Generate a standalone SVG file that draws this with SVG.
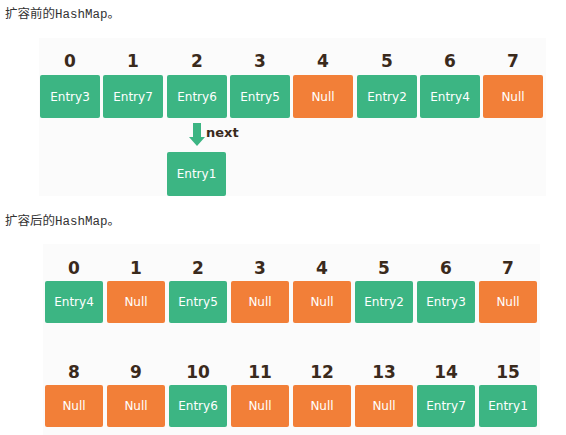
<svg xmlns="http://www.w3.org/2000/svg" width="566" height="435" viewBox="0 0 566 435">
<style>
.h{font-family:"Liberation Mono","Noto Sans CJK SC",monospace;font-size:12.5px;fill:#333}
.n{font-family:"DejaVu Sans","Liberation Sans",sans-serif;font-size:17px;font-weight:bold;fill:#3a2a1c;text-anchor:middle}
.l{font-family:"DejaVu Sans","Liberation Sans",sans-serif;font-size:12px;fill:#fff;text-anchor:middle}
.g{fill:#3cb583}
.o{fill:#f27f38}
.nx{font-family:"DejaVu Sans","Liberation Sans",sans-serif;font-size:13px;font-weight:bold;fill:#3a2a1c}
</style>
<rect width="566" height="435" fill="#fff"/>
<rect x="39" y="38" width="507" height="158" fill="#fbfbfb"/>
<rect x="43" y="244" width="497" height="191" fill="#fbfbfb"/>
<text class="h" x="5" y="18">扩容前的HashMap。</text>
<text class="h" x="5" y="225">扩容后的HashMap。</text>
<g id="before">
<g id="b0"><text class="n" x="70" y="67">0</text><rect class="g" x="40" y="75" width="60" height="43" rx="2"/><text class="l" x="70" y="101">Entry3</text></g>
<g id="b1"><text class="n" x="133" y="67">1</text><rect class="g" x="103" y="75" width="60" height="43" rx="2"/><text class="l" x="133" y="101">Entry7</text></g>
<g id="b2"><text class="n" x="197" y="67">2</text><rect class="g" x="167" y="75" width="60" height="43" rx="2"/><text class="l" x="197" y="101">Entry6</text></g>
<g id="b3"><text class="n" x="260" y="67">3</text><rect class="g" x="230" y="75" width="60" height="43" rx="2"/><text class="l" x="260" y="101">Entry5</text></g>
<g id="b4"><text class="n" x="323" y="67">4</text><rect class="o" x="293" y="75" width="60" height="43" rx="2"/><text class="l" x="323" y="101">Null</text></g>
<g id="b5"><text class="n" x="387" y="67">5</text><rect class="g" x="357" y="75" width="60" height="43" rx="2"/><text class="l" x="387" y="101">Entry2</text></g>
<g id="b6"><text class="n" x="450" y="67">6</text><rect class="g" x="420" y="75" width="60" height="43" rx="2"/><text class="l" x="450" y="101">Entry4</text></g>
<g id="b7"><text class="n" x="513" y="67">7</text><rect class="o" x="483" y="75" width="60" height="43" rx="2"/><text class="l" x="513" y="101">Null</text></g>
<g id="e1"><rect class="g" x="167" y="152" width="59" height="44" rx="2"/><text class="l" x="196.5" y="178">Entry1</text></g>
</g>
<g id="connectors">
<polygon class="g" points="193,123 201,123 201,137 205,137 197,146 189,137 193,137"/>
<text class="nx" x="206" y="137">next</text>
</g>
<g id="after">
<g id="a0"><text class="n" x="74" y="274">0</text><rect class="g" x="45" y="281" width="58" height="42" rx="2"/><text class="l" x="74" y="306">Entry4</text></g>
<g id="a1"><text class="n" x="136" y="274">1</text><rect class="o" x="107" y="281" width="58" height="42" rx="2"/><text class="l" x="136" y="306">Null</text></g>
<g id="a2"><text class="n" x="198" y="274">2</text><rect class="g" x="169" y="281" width="58" height="42" rx="2"/><text class="l" x="198" y="306">Entry5</text></g>
<g id="a3"><text class="n" x="260" y="274">3</text><rect class="o" x="231" y="281" width="58" height="42" rx="2"/><text class="l" x="260" y="306">Null</text></g>
<g id="a4"><text class="n" x="322" y="274">4</text><rect class="o" x="293" y="281" width="58" height="42" rx="2"/><text class="l" x="322" y="306">Null</text></g>
<g id="a5"><text class="n" x="384" y="274">5</text><rect class="g" x="355" y="281" width="58" height="42" rx="2"/><text class="l" x="384" y="306">Entry2</text></g>
<g id="a6"><text class="n" x="446" y="274">6</text><rect class="g" x="417" y="281" width="58" height="42" rx="2"/><text class="l" x="446" y="306">Entry3</text></g>
<g id="a7"><text class="n" x="508" y="274">7</text><rect class="o" x="479" y="281" width="58" height="42" rx="2"/><text class="l" x="508" y="306">Null</text></g>
<g id="a8"><text class="n" x="74" y="378">8</text><rect class="o" x="45" y="385" width="58" height="42" rx="2"/><text class="l" x="74" y="410">Null</text></g>
<g id="a9"><text class="n" x="136" y="378">9</text><rect class="o" x="107" y="385" width="58" height="42" rx="2"/><text class="l" x="136" y="410">Null</text></g>
<g id="a10"><text class="n" x="198" y="378">10</text><rect class="g" x="169" y="385" width="58" height="42" rx="2"/><text class="l" x="198" y="410">Entry6</text></g>
<g id="a11"><text class="n" x="260" y="378">11</text><rect class="o" x="231" y="385" width="58" height="42" rx="2"/><text class="l" x="260" y="410">Null</text></g>
<g id="a12"><text class="n" x="322" y="378">12</text><rect class="o" x="293" y="385" width="58" height="42" rx="2"/><text class="l" x="322" y="410">Null</text></g>
<g id="a13"><text class="n" x="384" y="378">13</text><rect class="o" x="355" y="385" width="58" height="42" rx="2"/><text class="l" x="384" y="410">Null</text></g>
<g id="a14"><text class="n" x="446" y="378">14</text><rect class="g" x="417" y="385" width="58" height="42" rx="2"/><text class="l" x="446" y="410">Entry7</text></g>
<g id="a15"><text class="n" x="508" y="378">15</text><rect class="g" x="479" y="385" width="58" height="42" rx="2"/><text class="l" x="508" y="410">Entry1</text></g>
</g>
</svg>
